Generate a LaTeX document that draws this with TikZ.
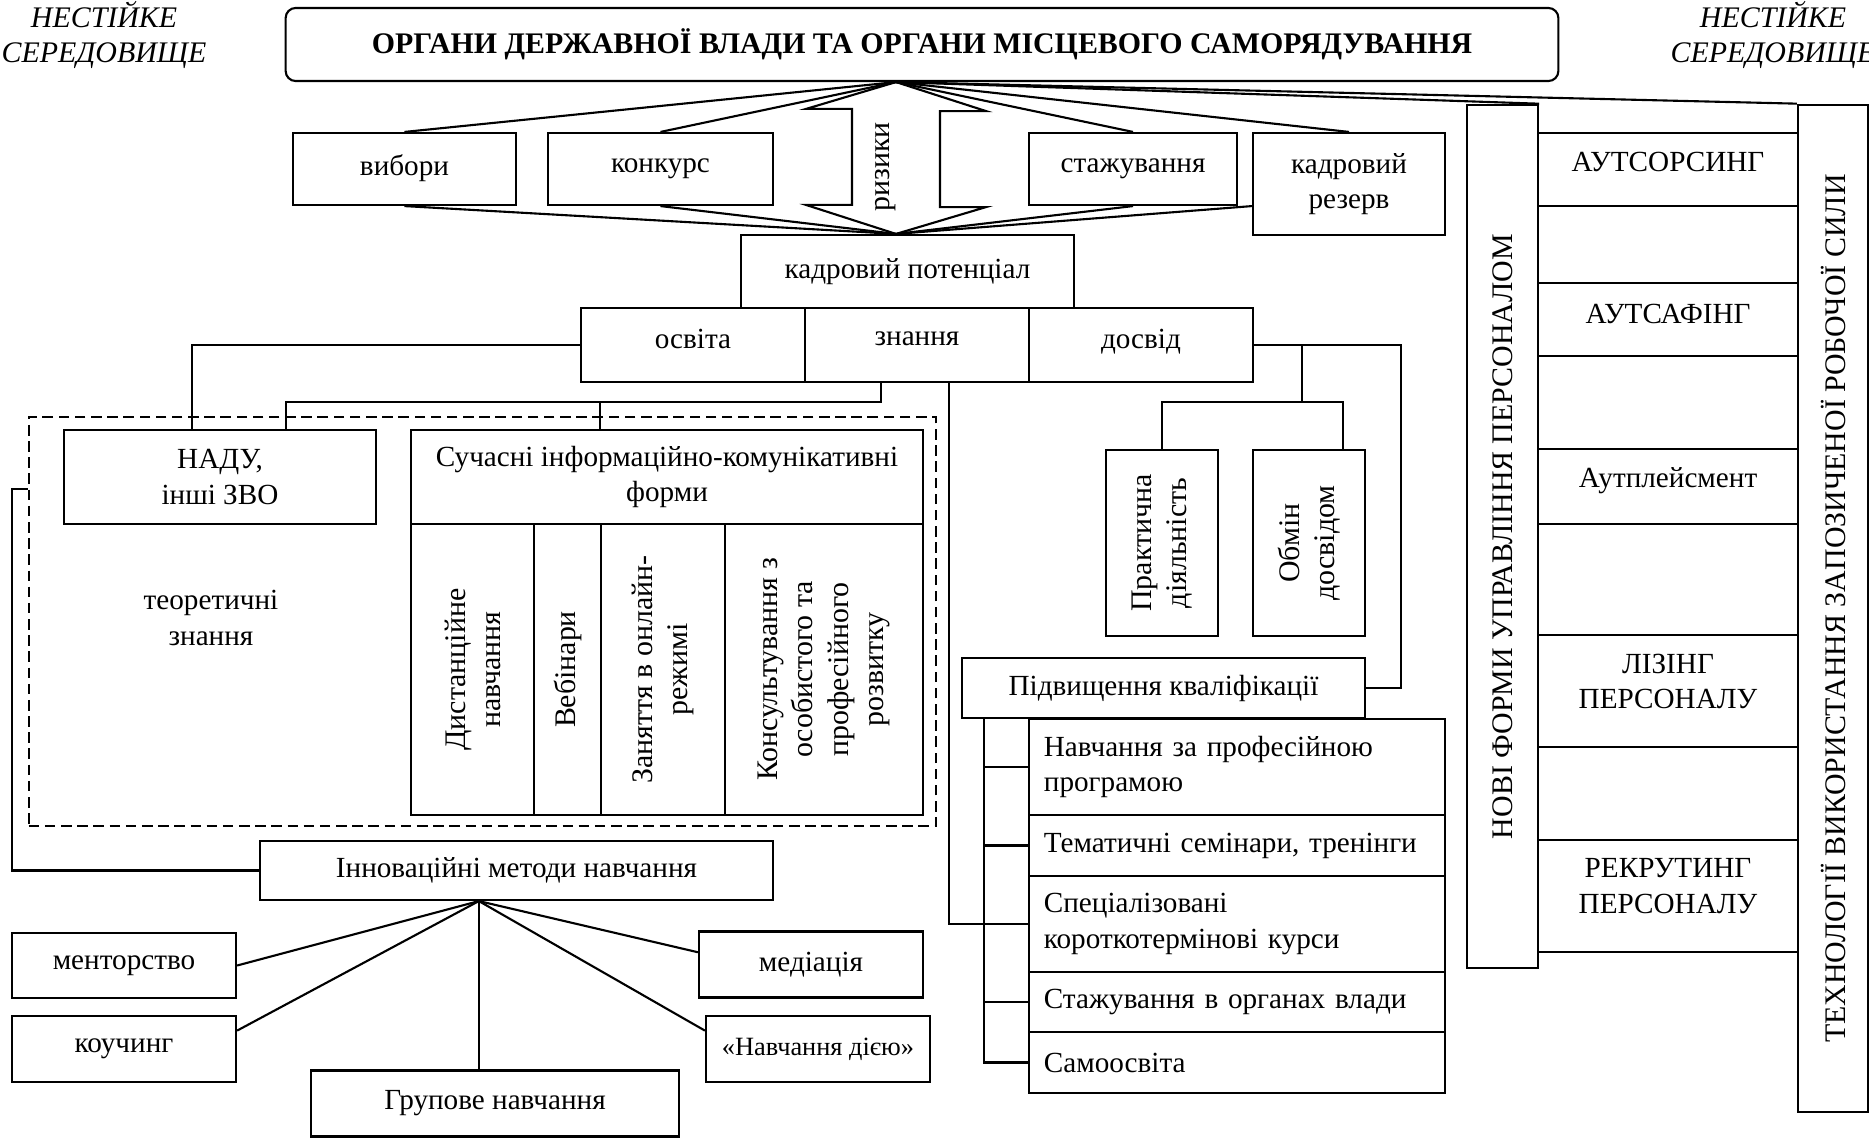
\documentclass[tikz,border=0pt]{standalone}
\usepackage{fontspec}
\setmainfont{Liberation Serif}
\usetikzlibrary{calc}

\begin{document}
\begin{tikzpicture}[x=0.01cm, y=-0.01cm, line width=0.6pt,
    box/.style={draw, rectangle, inner sep=2pt, align=center, font=\fontsize{8.3}{10}\selectfont},
    vbox/.style={box, rotate=90, font=\fontsize{8.5}{10}\selectfont},
    listbox/.style={box, align=left, inner xsep=0.15cm, text width=3.86cm, minimum width=4.16cm},
    dashbox/.style={draw, dash pattern=on 3pt off 1.6pt, inner sep=0pt},
    lift/.style={text depth=#1},
    side/.style={align=center, font=\fontsize{8.5}{10}\selectfont\itshape}]
  \useasboundingbox (0,0) rectangle (1869,1139);
  \draw
    (104,35) node[side] (envl) {НЕСТІЙКЕ\\СЕРЕДОВИЩЕ}
    (1773,35) node[side] (envr) {НЕСТІЙКЕ\\СЕРЕДОВИЩЕ}
    (922,44.5) node[box, rounded corners=0.1cm, minimum width=12.72cm, minimum height=0.73cm,
      font=\fontsize{8.5}{10}\selectfont\bfseries] (organy) {ОРГАНИ ДЕРЖАВНОЇ ВЛАДИ ТА ОРГАНИ МІСЦЕВОГО САМОРЯДУВАННЯ}
    (404.5,169) node[box, minimum width=2.23cm, minimum height=0.72cm, lift=2.5pt] (vybory) {вибори}
    (660.5,169) node[box, minimum width=2.25cm, minimum height=0.72cm] (konkurs) {конкурс}
    (1133,169) node[box, minimum width=2.08cm, minimum height=0.72cm] (stazhuv) {стажування}
    (1349,184) node[box, minimum width=1.92cm, minimum height=1.02cm] (rezerv) {кадровий\\резерв}
    (907.5,271.5) node[box, minimum width=3.33cm, minimum height=0.73cm] (kadpot) {кадровий потенціал}
    (693,345) node[box, minimum width=2.24cm, minimum height=0.74cm, lift=3.5pt] (osvita) {освіта}
    (917,345) node[box, minimum width=2.24cm, minimum height=0.74cm, lift=3.5pt] (znannya) {знання}
    (1141,345) node[box, minimum width=2.24cm, minimum height=0.74cm, lift=3.5pt] (dosvid) {досвід};
  \coordinate (topapex) at ($(organy.south)+(-26,0)$);
  \coordinate (botapex) at ($(kadpot.north)+(-11.5,0)$);
  \draw (topapex) -- ++(90,29) -- ++(-46,0) -- ++(0,96) -- ++(46,0) -- (botapex)
    -- ++(-90,-29) -- ++(46,0) -- ++(0,-96) -- ++(-46,0) -- cycle;
  \node[rotate=90, font=\fontsize{8.5}{10}\selectfont] (ryzyky) at (886,167) {ризики};
  \draw
    (482.5,621.5) node[dashbox, minimum width=9.07cm, minimum height=4.09cm] (theor) {}
    (211,618) node[align=center, font=\fontsize{8.3}{10}\selectfont] (theortext) {теоретичні\\знання}
    (220,477) node[box, minimum width=3.12cm, minimum height=0.94cm] (nadu) {НАДУ,\\інші ЗВО}
    (667,477) node[box, minimum width=5.12cm, minimum height=0.94cm] (suchas) {Сучасні інформаційно-комунікативні\\форми}
    (472.5,669.5) node[vbox, minimum width=2.91cm, minimum height=1.23cm] (dystan) {Дистанційне\\навчання}
    (567.5,669.5) node[vbox, minimum width=2.91cm, minimum height=0.67cm] (vebin) {Вебінари}
    (663,669.5) node[vbox, minimum width=2.91cm, minimum height=1.24cm] (zanyat) {Заняття в онлайн-\\режимі}
    (824,669.5) node[vbox, minimum width=2.91cm, minimum height=1.98cm] (konsult) {Консультування з\\особистого та\\професійного\\розвитку}
    (516.5,870.5) node[box, minimum width=5.13cm, minimum height=0.59cm] (innov) {Інноваційні методи навчання}
    (124,965.5) node[box, minimum width=2.24cm, minimum height=0.65cm] (mentor) {менторство}
    (124,1049) node[box, minimum width=2.24cm, minimum height=0.66cm] (kouch) {коучинг}
    (495,1103.5) node[box, minimum width=3.68cm, minimum height=0.66cm] (grup) {Групове навчання}
    (811,964.5) node[box, minimum width=2.24cm, minimum height=0.66cm] (mediac) {медіація}
    (818,1049) node[box, minimum width=2.24cm, minimum height=0.66cm, font=\fontsize{7.5}{9}\selectfont] (diyu) {«Навчання дією»}
    (1162,543) node[vbox, minimum width=1.86cm, minimum height=1.12cm] (prakt) {Практична\\діяльність}
    (1309,543) node[vbox, minimum width=1.86cm, minimum height=1.12cm] (obmin) {Обмін\\досвідом}
    (1163.5,688) node[box, minimum width=4.03cm, minimum height=0.6cm] (pidv) {Підвищення кваліфікації}
    (1237,767) node[listbox, minimum height=0.96cm] (navch) {Навчання за професійною\\програмою}
    (1237,845.5) node[listbox, minimum height=0.61cm] (temat) {Тематичні семінари, тренінги}
    (1237,924) node[listbox, minimum height=0.96cm] (spec) {Спеціалізовані\\короткотермінові курси}
    (1237,1002) node[listbox, minimum height=0.6cm] (stazhorg) {Стажування в органах влади}
    (1237,1062.5) node[listbox, minimum height=0.61cm] (samo) {Самоосвіта}
    (1502.5,536.5) node[vbox, minimum width=8.63cm, minimum height=0.71cm] (novi) {НОВІ ФОРМИ УПРАВЛІННЯ ПЕРСОНАЛОМ}
    (1833,608.5) node[vbox, minimum width=10.07cm, minimum height=0.7cm] (tehn) {ТЕХНОЛОГІЇ ВИКОРИСТАННЯ ЗАПОЗИЧЕНОЇ РОБОЧОЇ СИЛИ}
    (1668,169.5) node[box, minimum width=2.6cm, minimum height=0.73cm, lift=4.5pt] (autsors) {АУТСОРСИНГ}
    (1668,319.5) node[box, minimum width=2.6cm, minimum height=0.73cm, lift=3.4pt] (autsaf) {АУТСАФІНГ}
    (1668,486.5) node[box, minimum width=2.6cm, minimum height=0.75cm, lift=5pt] (autpl) {Аутплейсмент}
    (1668,691) node[box, minimum width=2.6cm, minimum height=1.12cm, lift=5.7pt] (lizing) {ЛІЗІНГ\\ПЕРСОНАЛУ}
    (1668,896) node[box, minimum width=2.6cm, minimum height=1.12cm, lift=5.7pt] (rekrut) {РЕКРУТИНГ\\ПЕРСОНАЛУ};
  \coordinate (znleft) at ($(znannya.south west)!0.34!(znannya.south east)$);
  \coordinate (znright) at ($(znannya.south west)!0.64!(znannya.south east)$);
  \coordinate (zknee) at ($(znleft)+(0,19)$);
  \coordinate (suchtop) at ($(suchas.north west)!0.37!(suchas.north east)$);
  \coordinate (dright) at ($(dosvid.east)+(147,0)$);
  \coordinate (dsplit) at ($(dosvid.east)+(48,0)$);
  \coordinate (dbus) at ($(dsplit)+(0,57)$);
  \coordinate (brtop) at ($(pidv.south west)+(23,0)$);
  \coordinate (lbend) at (12,489);
  \coordinate (fan) at ($(innov.south west)!0.427!(innov.south east)$);
  \begin{scope}[-]
    \draw (topapex) to (vybory.north);
    \draw (topapex) to (konkurs.north);
    \draw (topapex) to (stazhuv.north);
    \draw (topapex) to (rezerv.north);
    \draw (topapex) to (novi.south east);
    \draw (topapex) to (tehn.north east);
    \draw (botapex) to (vybory.south);
    \draw (botapex) to (konkurs.south);
    \draw (botapex) to (stazhuv.south);
    \draw (botapex) to (rezerv.west |- stazhuv.south);
    \draw (osvita.west) -| ($(nadu.north west)!0.41!(nadu.north east)$);
    \draw (znleft) -- (zknee) -| ($(nadu.north west)!0.71!(nadu.north east)$);
    \draw (suchtop) -- (suchtop |- zknee);
    \draw (znright) |- (spec.west);
    \draw (dosvid.east) -- (dright) |- (pidv.east);
    \draw (dsplit) -- (dbus);
    \draw (prakt.east) |- (dbus) -| ($(obmin.north east)!0.8!(obmin.south east)$);
    \draw (brtop) |- (samo.west);
    \foreach \n in {navch,temat,spec,stazhorg}
      \draw (brtop |- \n.west) -- (\n.west);
    \draw (innov.west) -| (lbend) -- (lbend -| theor.west);
    \draw (fan) to (mentor.east);
    \draw (fan) to ($(kouch.north east)!0.23!(kouch.south east)$);
    \draw (fan) to (fan |- grup.north);
    \draw (fan) to ($(mediac.north west)!0.32!(mediac.south west)$);
    \draw (fan) to ($(diyu.north west)!0.23!(diyu.south west)$);
  \end{scope}
\end{tikzpicture}
\end{document}
